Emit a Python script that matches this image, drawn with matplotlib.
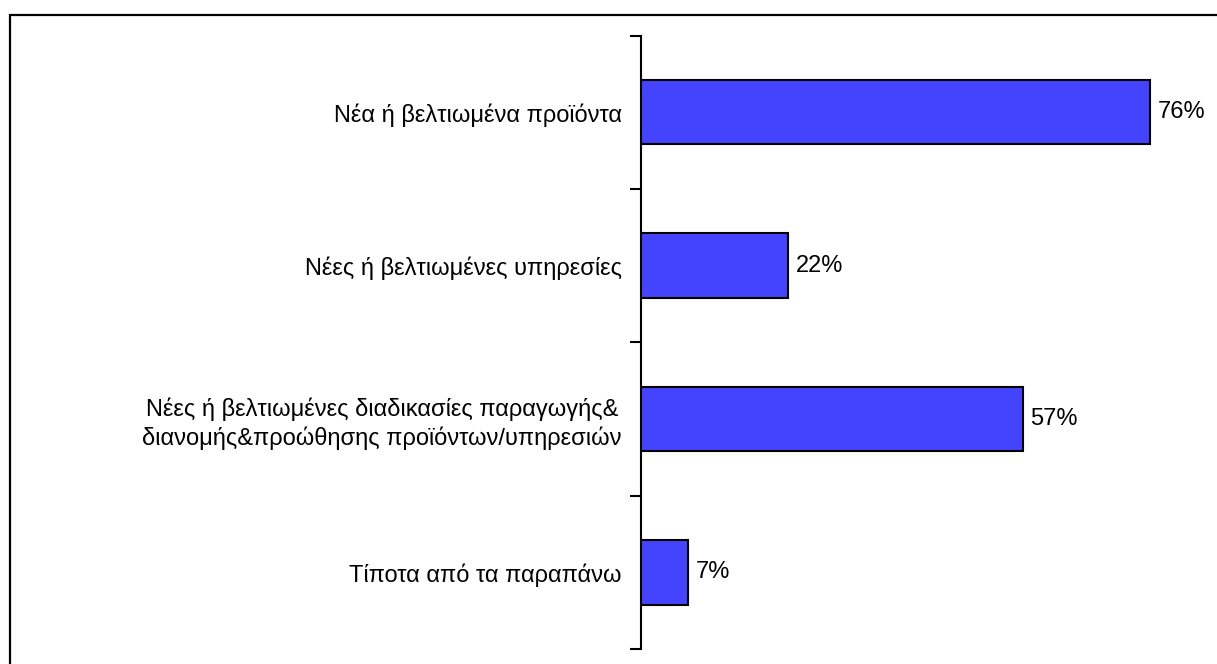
import matplotlib.pyplot as plt
from matplotlib.patches import Rectangle

plt.rcParams['font.family'] = ['Liberation Sans', 'DejaVu Sans']

categories = [
    "Νέα ή βελτιωμένα προϊόντα",
    "Νέες ή βελτιωμένες υπηρεσίες",
    "Νέες ή βελτιωμένες διαδικασίες παραγωγής&\nδιανομής&προώθησης προϊόντων/υπηρεσιών",
    "Τίποτα από τα παραπάνω",
]
values = [76, 22, 57, 7]
value_labels = [f"{v}%" for v in values]

fig = plt.figure(figsize=(12.17, 6.64), dpi=100)
ax = fig.add_axes([0.5267, 0.0226, 0.4403, 0.9238])

n = len(categories)
pos = list(range(n))
bars = ax.barh(pos, values, height=0.42, color='#4444ff',
               edgecolor='black', linewidth=1.5, zorder=3)

for bar, lab in zip(bars, value_labels):
    ax.text(bar.get_width() + 1.15, bar.get_y() + bar.get_height() / 2, lab,
            va='center', ha='left', fontsize=17, color='black')

ax.set_xlim(0, 80)
ax.set_ylim(n - 0.5, -0.5)

# boundary ticks on the axis line, labels centred on each bar
ax.set_yticks([i - 0.5 for i in range(n + 1)])
ax.set_yticklabels([])
ax.tick_params(axis='y', which='major', length=8, width=1.5, direction='out')
ax.set_yticks(pos, minor=True)
ax.set_yticklabels(categories, minor=True, fontsize=17,
                   multialignment='center', linespacing=1.25)
ax.tick_params(axis='y', which='minor', length=0, pad=14)

ax.set_xticks([])
for side in ['top', 'right', 'bottom']:
    ax.spines[side].set_visible(False)
ax.spines['left'].set_linewidth(1.5)

# outer border, running off the right and bottom edges
fig.patches.append(Rectangle((10 / 1217, -0.1), 1.2, 1 - 15 / 664 + 0.1,
                             transform=fig.transFigure, fill=False,
                             edgecolor='black', linewidth=1.6))

fig.savefig('out.png', dpi=100)
